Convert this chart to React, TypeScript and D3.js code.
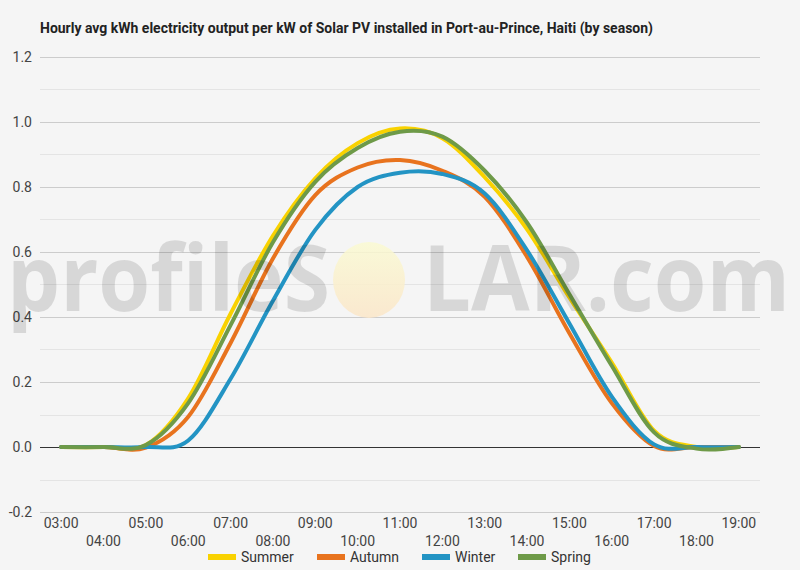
import React, { useRef, useEffect } from "react";
import * as d3 from "d3";

const hours = [
  "03:00", "04:00", "05:00", "06:00", "07:00", "08:00", "09:00", "10:00", "11:00",
  "12:00", "13:00", "14:00", "15:00", "16:00", "17:00", "18:00", "19:00",
];
const summer = [0, 0, 0.006, 0.15, 0.41, 0.65, 0.827, 0.935, 0.98, 0.95, 0.83, 0.67, 0.46, 0.26, 0.05, 0, 0];
const autumn = [0, 0, -0.002, 0.093, 0.32, 0.58, 0.775, 0.86, 0.883, 0.85, 0.77, 0.585, 0.35, 0.135, 0.003, 0, 0];
const winter = [0, 0, 0, 0.02, 0.21, 0.45, 0.668, 0.8, 0.844, 0.84, 0.78, 0.605, 0.38, 0.155, 0.008, 0, 0];
const spring = [0, 0, 0.006, 0.135, 0.375, 0.63, 0.816, 0.92, 0.97, 0.955, 0.85, 0.69, 0.47, 0.25, 0.045, -0.005, 0];

const seriesNames = ["Summer", "Autumn", "Winter", "Spring"];
const seriesValues = [summer, autumn, winter, spring];
const colors = ["#f9d200", "#e8731e", "#2394c4", "#6e9a48"];
const yTicks = [-0.2, 0, 0.2, 0.4, 0.6, 0.8, 1.0, 1.2];

const W = 800;
const H = 570;

const App = () => {
  const svgRef = useRef<SVGSVGElement>(null);

  useEffect(() => {
    document.body.style.margin = "0";
    const svg = d3.select(svgRef.current);
    svg.selectAll("*").remove();

    const margin = { top: 57, right: 40, bottom: 58, left: 40 };

    const x = d3
      .scalePoint<string>()
      .domain(hours)
      .range([margin.left, W - margin.right])
      .padding(0.5);

    const y = d3
      .scaleLinear()
      .domain([-0.2, 1.2])
      .range([H - margin.bottom, margin.top]);

    svg.append("rect").attr("width", W).attr("height", H).attr("fill", "#f5f5f5");

    // title
    svg
      .append("text")
      .attr("x", 40)
      .attr("y", 33)
      .attr("font-family", "Roboto")
      .attr("font-weight", "bold")
      .attr("font-size", 14)
      .attr("fill", "#222")
      .attr("textLength", 613)
      .attr("lengthAdjust", "spacingAndGlyphs")
      .text("Hourly avg kWh electricity output per kW of Solar PV installed in Port-au-Prince, Haiti (by season)");

    // minor gridlines
    const minor = d3.range(-0.1, 1.2, 0.2);
    svg
      .append("g")
      .selectAll("line")
      .data(minor)
      .enter()
      .append("line")
      .attr("x1", margin.left)
      .attr("x2", W - margin.right)
      .attr("y1", (d) => Math.round(y(d)) + 0.5)
      .attr("y2", (d) => Math.round(y(d)) + 0.5)
      .attr("stroke", "#e4e4e4");

    // major gridlines
    svg
      .append("g")
      .selectAll("line")
      .data(yTicks)
      .enter()
      .append("line")
      .attr("x1", margin.left)
      .attr("x2", W - margin.right)
      .attr("y1", (d) => Math.round(y(d)) + 0.5)
      .attr("y2", (d) => Math.round(y(d)) + 0.5)
      .attr("stroke", (d) => (d === 0 ? "#333" : "#cccccc"));

    // y labels
    svg
      .append("g")
      .selectAll("text")
      .data(yTicks)
      .enter()
      .append("text")
      .attr("x", 32)
      .attr("y", (d) => y(d) + 5)
      .attr("text-anchor", "end")
      .attr("font-family", "Roboto")
      .attr("font-size", 14)
      .attr("fill", "#444")
      .text((d) => d.toFixed(1));

    // x labels, alternating rows
    svg
      .append("g")
      .selectAll("text")
      .data(hours)
      .enter()
      .append("text")
      .attr("x", (d) => x(d) as number)
      .attr("y", (d, i) => (i % 2 === 0 ? 528 : 546))
      .attr("text-anchor", "middle")
      .attr("font-family", "Roboto")
      .attr("font-size", 14)
      .attr("fill", "#444")
      .text((d) => d);

    // lines
    const line = d3
      .line<number>()
      .x((d, i) => x(hours[i]) as number)
      .y((d) => y(d))
      .curve(d3.curveCardinal.tension(0));

    svg
      .append("g")
      .selectAll("path")
      .data(seriesValues)
      .enter()
      .append("path")
      .attr("d", (d) => line(d))
      .attr("fill", "none")
      .attr("stroke", (d, i) => colors[i])
      .attr("stroke-width", 4)
      .attr("stroke-linecap", "round")
      .attr("stroke-linejoin", "round");

    // watermark
    const wm = svg.append("g").attr("pointer-events", "none");
    const grad = svg.append("defs").append("linearGradient").attr("id", "sun").attr("x1", 0).attr("y1", 0).attr("x2", 0).attr("y2", 1);
    grad.append("stop").attr("offset", "0%").attr("stop-color", "#fafad2");
    grad.append("stop").attr("offset", "100%").attr("stop-color", "#fbe6c8");
    wm.append("ellipse")
      .attr("cx", 369)
      .attr("cy", 280)
      .attr("rx", 36)
      .attr("ry", 38)
      .attr("fill", "url(#sun)")
      .attr("opacity", 0.85);
    wm.append("text")
      .attr("x", 7)
      .attr("y", 311)
      .attr("font-family", "Open Sans")
      .attr("font-weight", 700)
      .attr("font-size", 92)
      .attr("fill", "#000")
      .attr("fill-opacity", 0.12)
      .attr("textLength", 323)
      .attr("lengthAdjust", "spacingAndGlyphs")
      .text("profileS");
    wm.append("text")
      .attr("x", 423)
      .attr("y", 311)
      .attr("font-family", "Open Sans")
      .attr("font-weight", 700)
      .attr("font-size", 92)
      .attr("fill", "#000")
      .attr("fill-opacity", 0.12)
      .attr("textLength", 367)
      .attr("lengthAdjust", "spacingAndGlyphs")
      .text("LAR.com");

    // legend
    const legendX = [208, 317, 422, 518];
    const legend = svg
      .append("g")
      .selectAll("g")
      .data(seriesNames)
      .enter()
      .append("g")
      .attr("transform", (d, i) => `translate(${legendX[i]},557)`);
    legend
      .append("rect")
      .attr("x", 0)
      .attr("y", -3)
      .attr("width", 28)
      .attr("height", 6)
      .attr("fill", (d, i) => colors[i]);
    legend
      .append("text")
      .attr("x", 33)
      .attr("y", 5)
      .attr("font-family", "Roboto")
      .attr("font-size", 14)
      .attr("fill", "#333")
      .text((d) => d);
  }, []);

  return <svg ref={svgRef} width={W} height={H} style={{ display: "block" }}></svg>;
};

export default App;
